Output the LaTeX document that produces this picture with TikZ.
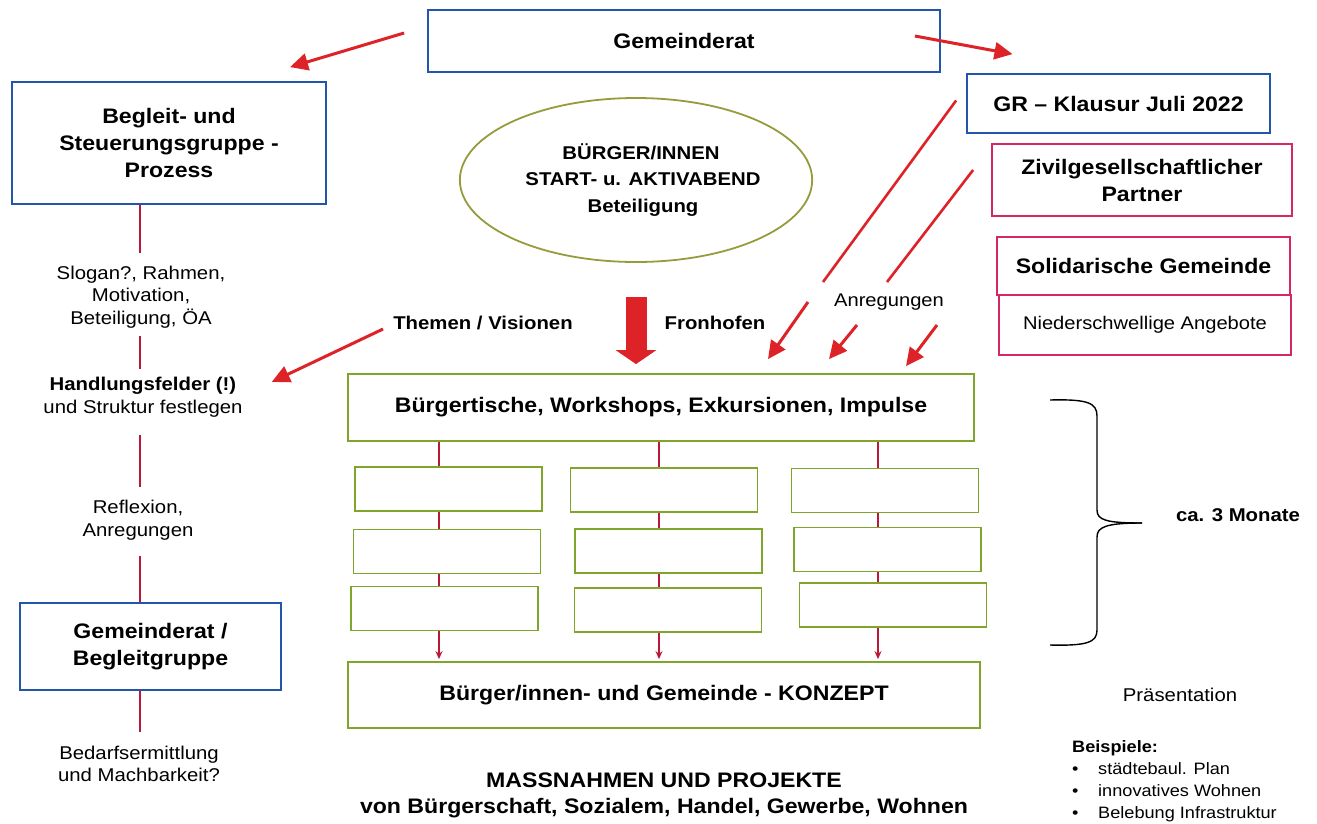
\documentclass[tikz,border=0pt]{standalone}
\usepackage{fontspec}
\setmainfont{Liberation Sans}[FakeStretch=1.1]
\usetikzlibrary{arrows.meta,shapes.geometric}
\definecolor{boxblue}{RGB}{35,85,170}
\definecolor{boxpink}{RGB}{212,40,95}
\definecolor{boxgreen}{RGB}{128,165,45}
\definecolor{ellcol}{RGB}{150,155,60}
\definecolor{arrred}{RGB}{222,35,40}
\definecolor{linered}{RGB}{185,25,55}
\newcommand{\myfA}{\fontsize{21}{27}\selectfont\bfseries}
\newcommand{\myfE}{\fontsize{18.5}{26.5}\selectfont\bfseries}
\newcommand{\myfL}{\fontsize{18.5}{22.5}\selectfont}
\newcommand{\myfS}{\fontsize{18.3}{21}\selectfont}
\newcommand{\myfT}{\fontsize{16.5}{22}\selectfont}
\begin{document}
\begin{tikzpicture}[x=1pt,y=-1pt,
 box/.style={draw, line width=1.8pt, fill=white, inner sep=0pt, align=center, font=\myfA},
 bluebox/.style={box, draw=boxblue},
 pinkbox/.style={box, draw=boxpink},
 greenbox/.style={box, draw=boxgreen},
 subbox/.style={draw=boxgreen, line width=1.8pt, fill=white, minimum width=187, minimum height=44, inner sep=0pt},
 redarrow/.style={draw=arrred, line width=3pt, -{Triangle[length=18pt,width=17pt]}},
 redline/.style={draw=arrred, line width=2.6pt},
 bigarrow/.style={draw=arrred, line width=21pt, -{Triangle[length=14pt,width=40pt]}},
 vline/.style={draw=linered, line width=2.2pt},
 colline/.style={draw=linered, line width=1.6pt},
 colarrow/.style={colline, -{Stealth[length=8pt,width=7pt]}},
 lbl/.style={align=center, inner sep=0pt},
 brace/.style={draw=black, line width=1.4pt},
]
\useasboundingbox[fill=white] (0,0) rectangle (1317,823);

% top and right boxes
\node[bluebox, minimum width=512, minimum height=62] (gem) at (684,41) {Gemeinderat};
\node[bluebox, minimum width=303, minimum height=59] (gr) at (1118.5,103.5) {GR -- Klausur Juli 2022};
\node[pinkbox, minimum width=300, minimum height=72] (ziv) at (1142,180) {Zivilgesellschaftlicher\\Partner};
\node[pinkbox, minimum width=293, minimum height=58] (sol) at (1143.5,266) {Solidarische Gemeinde};
\node[pinkbox, minimum width=292, minimum height=60, font=\myfS] (nie) at (1145,325) {Niederschwellige Angebote};

% left column
\node[bluebox, minimum width=314, minimum height=122] (beg) at (169,143) {Begleit- und\\Steuerungsgruppe -\\Prozess};
\node[lbl, font=\myfL] (t1) at (141,297) {Slogan?, Rahmen,\\Motivation,\\Beteiligung, ÖA};
\node[lbl, font=\myfL] (t2) at (143,397) {\bfseries Handlungsfelder (!)\\und Struktur festlegen};
\node[lbl, font=\myfL] (t3) at (138,520) {Reflexion,\\Anregungen};
\node[bluebox, minimum width=261, minimum height=87] (gb) at (150.5,646.5) {Gemeinderat /\\Begleitgruppe};
\node[lbl, font=\myfL] (t4) at (139,764) {Bedarfsermittlung\\und Machbarkeit?};

\coordinate (lx) at (140,0);
\draw[vline] (beg.south -| lx) -- ([yshift=13pt]t1.north -| lx);
\draw[vline] ([yshift=-8pt]t1.south -| lx) -- ([yshift=8pt]t2.north -| lx);
\draw[vline] ([yshift=-18pt]t2.south -| lx) -- ([yshift=13pt]t3.north -| lx);
\draw[vline] ([yshift=-16pt]t3.south -| lx) -- (gb.north -| lx);
\draw[vline] (gb.south -| lx) -- ([yshift=14pt]t4.north -| lx);

% ellipse
\node[draw=ellcol, line width=1.8pt, ellipse, minimum width=345, minimum height=164, inner sep=0pt, align=center, font=\myfE] (ell) at (636,180) {\hspace*{10pt}BÜRGER/INNEN\\\hspace*{14pt}START- u. AKTIVABEND\\\hspace*{14pt}Beteiligung};

% middle
\node[greenbox, minimum width=626, minimum height=67] (bue) at (661,407.5) {Bürgertische, Workshops, Exkursionen, Impulse};
\node[subbox] (c11) at (448.5,489) {};
\node[subbox] (c12) at (447,551.5) {};
\node[subbox] (c13) at (444.5,608.5) {};
\node[subbox] (c21) at (664,490) {};
\node[subbox] (c22) at (668.5,551) {};
\node[subbox] (c23) at (668,610) {};
\node[subbox] (c31) at (885,490.5) {};
\node[subbox] (c32) at (887.5,549.5) {};
\node[subbox] (c33) at (893,605) {};
\node[greenbox, minimum width=632, minimum height=66] (kon) at (664,695) {Bürger/innen- und Gemeinde - KONZEPT};

\coordinate (cx1) at (439,0);
\coordinate (cx2) at (659,0);
\coordinate (cx3) at (878,0);
\draw[colline] (bue.south -| cx1) -- (c11.north -| cx1);
\draw[colline] (c11.south -| cx1) -- (c12.north -| cx1);
\draw[colline] (c12.south -| cx1) -- (c13.north -| cx1);
\draw[colarrow] (c13.south -| cx1) -- ([yshift=2pt]kon.north -| cx1);
\draw[colline] (bue.south -| cx2) -- (c21.north -| cx2);
\draw[colline] (c21.south -| cx2) -- (c22.north -| cx2);
\draw[colline] (c22.south -| cx2) -- (c23.north -| cx2);
\draw[colarrow] (c23.south -| cx2) -- ([yshift=2pt]kon.north -| cx2);
\draw[colline] (bue.south -| cx3) -- (c31.north -| cx3);
\draw[colline] (c31.south -| cx3) -- (c32.north -| cx3);
\draw[colline] (c32.south -| cx3) -- (c33.north -| cx3);
\draw[colarrow] (c33.south -| cx3) -- ([yshift=2pt]kon.north -| cx3);

% labels
\node[lbl, font=\myfE] (them) at (483,323) {Themen / Visionen};
\node[lbl, font=\myfE] (fron) at (715,323) {Fronhofen};
\node[lbl, font=\myfS] (anr) at (889,302) {Anregungen};
\node[lbl, font=\myfE] (mon) at (1238,515) {ca. 3 Monate};
\node[lbl, font=\myfL] (pra) at (1180,695) {Präsentation};
\node[lbl, font=\myfA, text depth=0pt] (mas) at (664,793) {MASSNAHMEN UND PROJEKTE\\[-1pt]von Bürgerschaft, Sozialem, Handel, Gewerbe, Wohnen};
\node[lbl, font=\myfT, align=left, anchor=north west] (bsp) at (1072,740) {\bfseries Beispiele:\\[0pt]\makebox[26pt][l]{•}städtebaul. Plan\\[0pt]\makebox[26pt][l]{•}innovatives Wohnen\\[0pt]\makebox[26pt][l]{•}Belebung Infrastruktur};

% red arrows
\draw[redarrow] ([xshift=-23pt,yshift=8pt]gem.west) -- ([xshift=121pt,yshift=14pt]beg.north);
\draw[redarrow] ([xshift=-26pt,yshift=5pt]gem.east) -- ([xshift=-106pt,yshift=19pt]gr.north);
\draw[redarrow] ([xshift=-10pt,yshift=-6pt]them.west) -- ([xshift=29pt,yshift=-5pt]t2.north east);
\draw[bigarrow] ([yshift=-34pt]ell.south) -- ([yshift=9pt]bue.north -| ell.south);

\coordinate (a1e) at (823,282);
\coordinate (a2s) at (808,302);
\coordinate (b1e) at (887,282);
\coordinate (b2s) at (857,325);
\coordinate (c2s) at (937,325);
\draw[redline] ([xshift=-10pt,yshift=3pt]gr.west) -- (a1e);
\draw[redarrow] (a2s) -- ([xshift=107pt,yshift=14pt]bue.north);
\draw[redline] ([xshift=-18pt,yshift=10pt]ziv.west) -- (b1e);
\draw[redarrow] (b2s) -- ([xshift=168pt,yshift=14pt]bue.north);
\draw[redarrow] (c2s) -- ([xshift=245pt,yshift=7pt]bue.north);

% brace
\draw[brace] (1050,400) .. controls (1088,399) and (1097,403) .. (1097,416) -- (1097,510) .. controls (1097,520) and (1106,523) .. (1142,523);
\draw[brace] (1142,523) .. controls (1106,523) and (1097,527) .. (1097,537) -- (1097,630) .. controls (1097,642) and (1088,646) .. (1050,645);
\end{tikzpicture}
\end{document}
